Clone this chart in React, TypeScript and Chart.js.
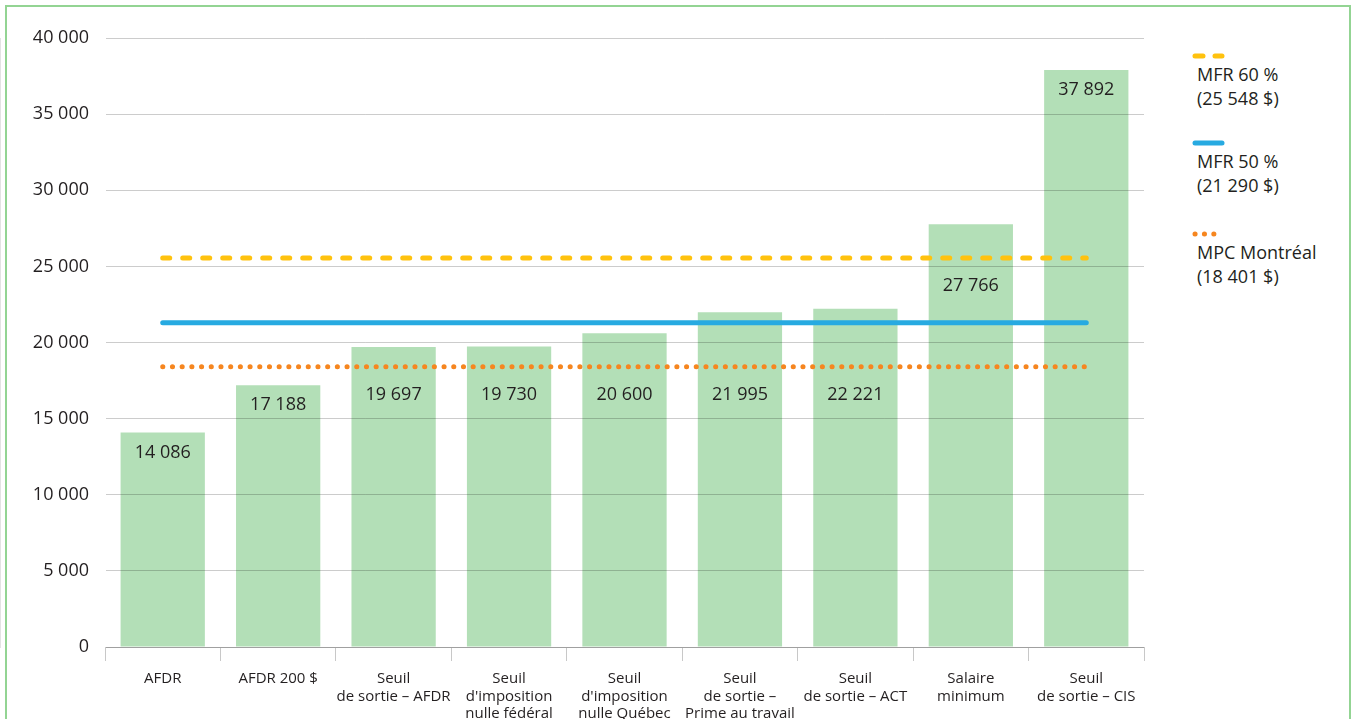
import React, { useEffect, useRef } from "react";
import { Chart, registerables } from "chart.js";

Chart.register(...registerables);

// Categories (multi-line labels) and bar values
const categories: string[][] = [
  ["AFDR"],
  ["AFDR 200 $"],
  ["Seuil", "de sortie – AFDR"],
  ["Seuil", "d'imposition", "nulle fédéral"],
  ["Seuil", "d'imposition", "nulle Québec"],
  ["Seuil", "de sortie –", "Prime au travail"],
  ["Seuil", "de sortie – ACT"],
  ["Salaire", "minimum"],
  ["Seuil", "de sortie – CIS"],
];
const values: number[] = [14086, 17188, 19697, 19730, 20600, 21995, 22221, 27766, 37892];

// Reference thresholds
const mfr60 = 25548;
const mfr50 = 21290;
const mpcMontreal = 18401;

// Y axis range
const yMin = 0;
const yMax = 40000;
const yStep = 5000;

const legendItems = [
  { label: ["MFR 60 %", "(25 548 $)"], kind: "dash", color: "#FFC20E" },
  { label: ["MFR 50 %", "(21 290 $)"], kind: "solid", color: "#27AAE1" },
  { label: ["MPC Montréal", "(18 401 $)"], kind: "dot", color: "#F6861F" },
];

const FONT = "'Open Sans', 'Noto Sans', sans-serif";
const TEXT = "#231F20";

const fmt = (v: number) => {
  const s = Math.round(v).toString();
  return s.replace(/\B(?=(\d{3})+(?!\d))/g, " ");
};

// Writes the value inside each bar, stepping below any threshold line it would cross
const barLabels = {
  id: "barLabels",
  afterDatasetsDraw(chart: any) {
    const ctx = chart.ctx;
    const meta = chart.getDatasetMeta(0);
    const yScale = chart.scales.y;
    const linePx = [mfr60, mfr50, mpcMontreal]
      .map((v) => yScale.getPixelForValue(v))
      .sort((a: number, b: number) => a - b);
    ctx.save();
    ctx.font = `18px ${FONT}`;
    ctx.fillStyle = TEXT;
    ctx.textAlign = "center";
    ctx.textBaseline = "middle";
    meta.data.forEach((bar: any, i: number) => {
      let ly = bar.y + 20;
      for (const lp of linePx) {
        if (Math.abs(ly - lp) < 20) ly = lp + 28;
      }
      ctx.fillText(fmt(values[i]), bar.x, ly);
    });
    ctx.restore();
  },
};

function Legend() {
  const tops = [50, 137, 228];
  return (
    <>
      {legendItems.map((it, i) => (
        <div
          key={i}
          style={{ position: "absolute", left: 1190, top: tops[i], fontFamily: FONT, color: TEXT }}
        >
          <svg width="34" height="12" style={{ display: "block", marginLeft: 2 }}>
            {it.kind === "dash" && (
              <line x1="3" y1="6" x2="30" y2="6" stroke={it.color} strokeWidth="5" strokeLinecap="round" strokeDasharray="8 12" />
            )}
            {it.kind === "solid" && (
              <line x1="3" y1="6" x2="30" y2="6" stroke={it.color} strokeWidth="5" strokeLinecap="round" />
            )}
            {it.kind === "dot" && (
              <line x1="3" y1="6" x2="24" y2="6" stroke={it.color} strokeWidth="5" strokeLinecap="round" strokeDasharray="0.1 9.3" />
            )}
          </svg>
          <div style={{ fontSize: 18, lineHeight: "24px", marginLeft: 7, marginTop: 0, whiteSpace: "nowrap" }}>
            {it.label.map((l, j) => (
              <div key={j}>{l}</div>
            ))}
          </div>
        </div>
      ))}
    </>
  );
}

export default function App() {
  const canvasRef = useRef<HTMLCanvasElement | null>(null);

  useEffect(() => {
    if (!canvasRef.current) return;
    const flat = (v: number) => categories.map(() => v);
    const chart = new Chart(canvasRef.current, {
      type: "bar",
      data: {
        labels: categories,
        datasets: [
          {
            type: "bar",
            data: values,
            backgroundColor: "#B3DFB7",
            barPercentage: 0.73,
            categoryPercentage: 1,
            order: 10,
          },
          {
            type: "line",
            data: flat(mfr60),
            borderColor: "#FFC20E",
            borderWidth: 5,
            borderDash: [7, 13],
            borderCapStyle: "round",
            pointRadius: 0,
            fill: false,
            order: 1,
          },
          {
            type: "line",
            data: flat(mfr50),
            borderColor: "#27AAE1",
            borderWidth: 5,
            borderCapStyle: "round",
            pointRadius: 0,
            fill: false,
            order: 2,
          },
          {
            type: "line",
            data: flat(mpcMontreal),
            borderColor: "#F6861F",
            borderWidth: 5,
            borderDash: [0.1, 9.6],
            borderCapStyle: "round",
            pointRadius: 0,
            fill: false,
            order: 3,
          },
        ] as any,
      },
      options: {
        animation: false,
        responsive: false,
        devicePixelRatio: 1,
        layout: { padding: { left: 0, right: 16, top: 38, bottom: 0 } },
        plugins: {
          legend: { display: false },
          tooltip: { enabled: false },
        },
        scales: {
          x: {
            type: "category",
            offset: true,
            grid: {
              offset: true,
              drawOnChartArea: false,
              drawTicks: true,
              tickLength: 14,
              color: "#C8C8C8",
            },
            border: { display: true, color: "#C8C8C8" },
            ticks: {
              autoSkip: false,
              maxRotation: 0,
              minRotation: 0,
              padding: 9,
              color: TEXT,
              font: { family: FONT, size: 15, lineHeight: 1.17 },
            },
            afterFit: (scale: any) => {
              scale.height = 72;
            },
          },
          y: {
            min: yMin,
            max: yMax,
            grid: { color: "rgba(0,0,0,0.2)", drawTicks: false, z: 1 },
            border: { display: true, color: "#C8C8C8" },
            ticks: {
              stepSize: yStep,
              padding: 16,
              color: TEXT,
              font: { family: FONT, size: 18 },
              callback: (v: any) => fmt(Number(v)),
            },
            afterFit: (scale: any) => {
              scale.width = 105;
            },
          },
        },
      } as any,
      plugins: [barLabels],
    });
    return () => chart.destroy();
  }, []);

  return (
    <div
      style={{
        position: "fixed",
        left: 0,
        top: 0,
        width: 1351,
        height: 719,
        background: "#fff",
        overflow: "hidden",
      }}
    >
      <div
        style={{
          position: "absolute",
          left: 5,
          top: 5,
          width: 1342,
          height: 800,
          border: "2px solid #93D493",
        }}
      />
      <canvas
        ref={canvasRef}
        width={1160}
        height={719}
        style={{ position: "absolute", left: 0, top: 0, width: 1160, height: 719 }}
      />
      <Legend />
    </div>
  );
}
